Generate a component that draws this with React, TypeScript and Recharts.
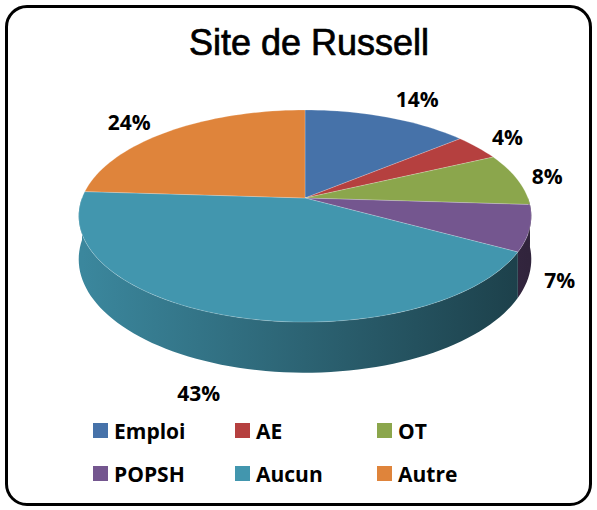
import React from 'react';
import { PieChart, Pie, Cell, Legend } from 'recharts';

const categories = ['Emploi', 'AE', 'OT', 'POPSH', 'Aucun', 'Autre'];
const shares = [14, 4, 8, 7, 43, 24];
const colors = ['#4672a9', '#b5403f', '#8ba64c', '#74568f', '#4296ae', '#df843b'];

const data = categories.map((name, i) => ({ name, value: shares[i] }));

// fake perspective for the "3D" pie
const RX = 223;
const RY = 103;
const P = 0.17;
const DEPTH = 42;
const RAD = Math.PI / 180;

function proj(cx: number, cy: number, deg: number, r = 1) {
  const u = Math.cos(deg * RAD) * r;
  const v = Math.sin(deg * RAD) * r;
  const k = 1 + P * v;
  return { x: cx + (RX * u) / k, y: cy - (RY * v) / k, v, k };
}

function shade(hex: string, f: number) {
  const n = parseInt(hex.slice(1), 16);
  const c = [(n >> 16) & 255, (n >> 8) & 255, n & 255].map(x => Math.round(x * f));
  return `rgb(${c[0]},${c[1]},${c[2]})`;
}

function arcPoints(cx: number, cy: number, a1: number, a2: number, drop = false) {
  const pts: string[] = [];
  const steps = Math.max(2, Math.ceil(Math.abs(a1 - a2) / 2));
  for (let i = 0; i <= steps; i++) {
    const a = a1 + ((a2 - a1) * i) / steps;
    const p = proj(cx, cy, a);
    const y = drop ? p.y + DEPTH / p.k : p.y;
    pts.push(`${p.x.toFixed(2)},${y.toFixed(2)}`);
  }
  return pts;
}

function Slice(props: any) {
  const { cx, cy, startAngle, endAngle, fill, index } = props;
  const top = arcPoints(cx, cy, startAngle, endAngle);
  const topPath = `M${cx},${cy} L${top.join(' L')} Z`;
  // visible side wall = front half of the rim (angles between -180 and 0)
  const hi = Math.min(Math.max(startAngle, endAngle), 0);
  const lo = Math.max(Math.min(startAngle, endAngle), -180);
  let side = null;
  if (hi > lo) {
    const upper = arcPoints(cx, cy, hi, lo);
    const lower = arcPoints(cx, cy, lo, hi, true);
    const gid = `side-${index}`;
    side = (
      <>
        <defs>
          <linearGradient id={gid} gradientUnits="userSpaceOnUse" x1={cx - RX} y1={0} x2={cx + RX} y2={0}>
            <stop offset="0" stopColor={shade(fill, 0.9)} />
            <stop offset="0.5" stopColor={shade(fill, 0.66)} />
            <stop offset="1" stopColor={shade(fill, 0.42)} />
          </linearGradient>
        </defs>
        <path d={`M${upper.join(' L')} L${lower.join(' L')} Z`} fill={`url(#${gid})`} />
      </>
    );
  }
  return (
    <g>
      {side}
      <path d={topPath} fill={fill} stroke="rgba(255,255,255,0.35)" strokeWidth={0.6} />
    </g>
  );
}

function renderLabel(props: any) {
  const { cx, cy, midAngle, percent } = props;
  const p = proj(cx, cy, midAngle);
  const u = Math.cos(midAngle * RAD);
  let x, y;
  if (p.v < 0) {
    x = p.x + (u >= 0 ? 30 : -32);
    y = p.y - p.v * 28 + DEPTH / p.k;
  } else {
    x = p.x + (u >= 0 ? 30 : -40);
    y = p.y - p.v * (u >= 0 ? 20 : 12);
  }
  return (
    <text x={x} y={y} textAnchor="middle" dominantBaseline="central"
      fontFamily="'Open Sans', Lato, sans-serif" fontWeight={700} fontSize={21} fill="#000">
      {Math.round(percent * 100)}%
    </text>
  );
}

function LegendBox(props: any) {
  const items = [...(props.payload || [])].sort(
    (a: any, b: any) => categories.indexOf(a.value) - categories.indexOf(b.value)
  );
  return (
    <div style={{ display: 'grid', gridTemplateColumns: '142px 142px 142px', rowGap: 14, marginLeft: 93 }}>
      {items.map((entry: any) => (
        <div key={entry.value} style={{ display: 'flex', alignItems: 'center', height: 29 }}>
          <span style={{ width: 15, height: 15, background: entry.color, display: 'inline-block', marginRight: 6 }} />
          <span style={{ fontFamily: "'Open Sans', Lato, sans-serif", fontWeight: 700, fontSize: 21, color: '#000' }}>
            {entry.value}
          </span>
        </div>
      ))}
    </div>
  );
}

export default function App() {
  return (
    <div style={{ position: 'absolute', left: 0, top: 0, width: 597, height: 510, background: '#fff' }}>
      <div style={{
        position: 'absolute', left: 5, top: 5, width: 581, height: 495,
        border: '3px solid #000', borderRadius: 22
      }} />
      <div style={{
        position: 'absolute', left: 0, top: 22, width: 618, textAlign: 'center',
        fontFamily: "'Liberation Sans', Arial, sans-serif", fontSize: 36, color: '#000',
        WebkitTextStroke: '0.7px #000'
      }}>
        Site de Russell
      </div>
      <div style={{ position: 'absolute', left: 0, top: 0 }}>
        <PieChart width={597} height={510} margin={{ top: 0, right: 0, bottom: 0, left: 0 }}>
          <Pie
            data={data}
            dataKey="value"
            nameKey="name"
            cx={305}
            cy={198}
            outerRadius={RX}
            startAngle={90}
            endAngle={-270}
            isAnimationActive={false}
            shape={Slice}
            inactiveShape={Slice}
            activeShape={Slice}
            label={renderLabel}
            labelLine={false}
          >
            {data.map((d, i) => <Cell key={d.name} fill={colors[i]} />)}
          </Pie>
          <Legend
            content={LegendBox}
            verticalAlign="bottom"
            wrapperStyle={{ position: 'absolute', left: 0, top: 416, bottom: 'auto', width: 597 }}
          />
        </PieChart>
      </div>
    </div>
  );
}
